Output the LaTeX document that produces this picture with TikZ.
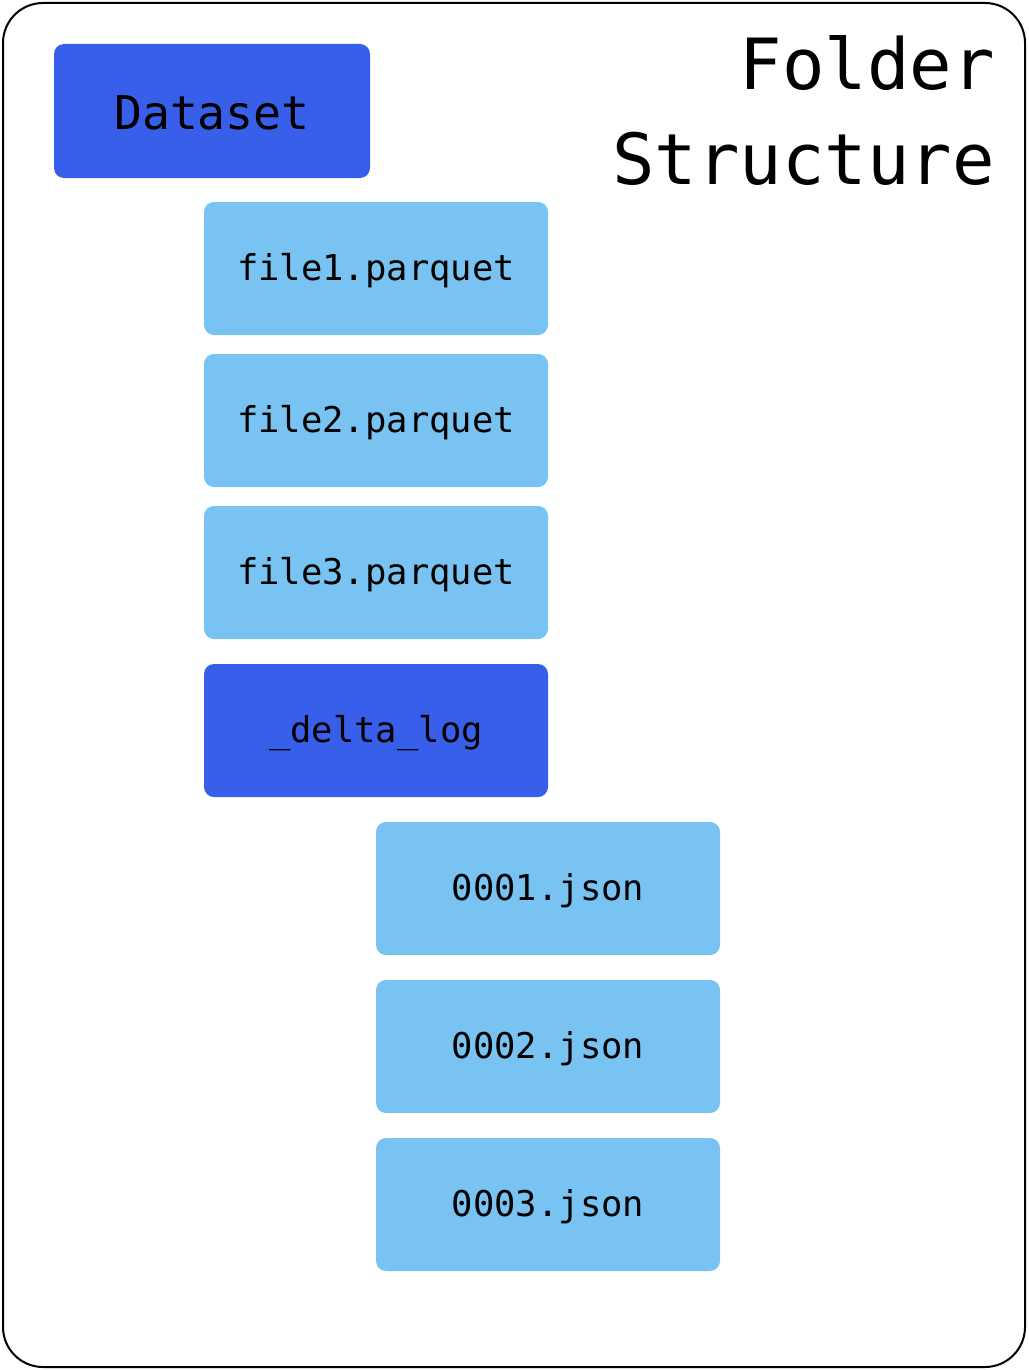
\documentclass[tikz,border=0pt]{standalone}
\usepackage{fontspec}
\setmonofont{DejaVu Sans Mono}
\definecolor{darkblue}{HTML}{385FEA}
\definecolor{lightblue}{HTML}{78C3F2}
\tikzset{
  box/.style={rounded corners=10pt, inner sep=0pt, text=black},
  folderbox/.style={box, fill=darkblue},
  filebox/.style={box, fill=lightblue},
  lbl/.style={font=\ttfamily\fontsize{35.5}{40}\selectfont},
}
\begin{document}
\begin{tikzpicture}[x=1pt,y=-1pt]
\useasboundingbox (0,0) rectangle (1028,1370);
\draw[line width=2pt, rounded corners=40pt] (3,3) rectangle (1025,1367);
\node[anchor=north east, align=right, font=\ttfamily\fontsize{70.6}{95}\selectfont, inner sep=0pt] (title) at (995,35) {Folder\\Structure};
% boxes
\path[folderbox] (54,44) rectangle (370,178);
\node[font=\ttfamily\fontsize{46.5}{50}\selectfont] (dataset) at (212,113) {Dataset};
\path[filebox] (204,202) rectangle (548,335);
\node[lbl] (f1) at (376,271) {file1.parquet};
\path[filebox] (204,354) rectangle (548,487);
\node[lbl] (f2) at (376,423) {file2.parquet};
\path[filebox] (204,506) rectangle (548,639);
\node[lbl] (f3) at (376,575) {file3.parquet};
\path[folderbox] (204,664) rectangle (548,797);
\node[lbl] (dl) at (376,733) {\_delta\_log};
\path[filebox] (376,822) rectangle (720,955);
\node[lbl] (j1) at (548,891) {0001.json};
\path[filebox] (376,980) rectangle (720,1113);
\node[lbl] (j2) at (548,1049) {0002.json};
\path[filebox] (376,1138) rectangle (720,1271);
\node[lbl] (j3) at (548,1207) {0003.json};
\end{tikzpicture}
\end{document}
